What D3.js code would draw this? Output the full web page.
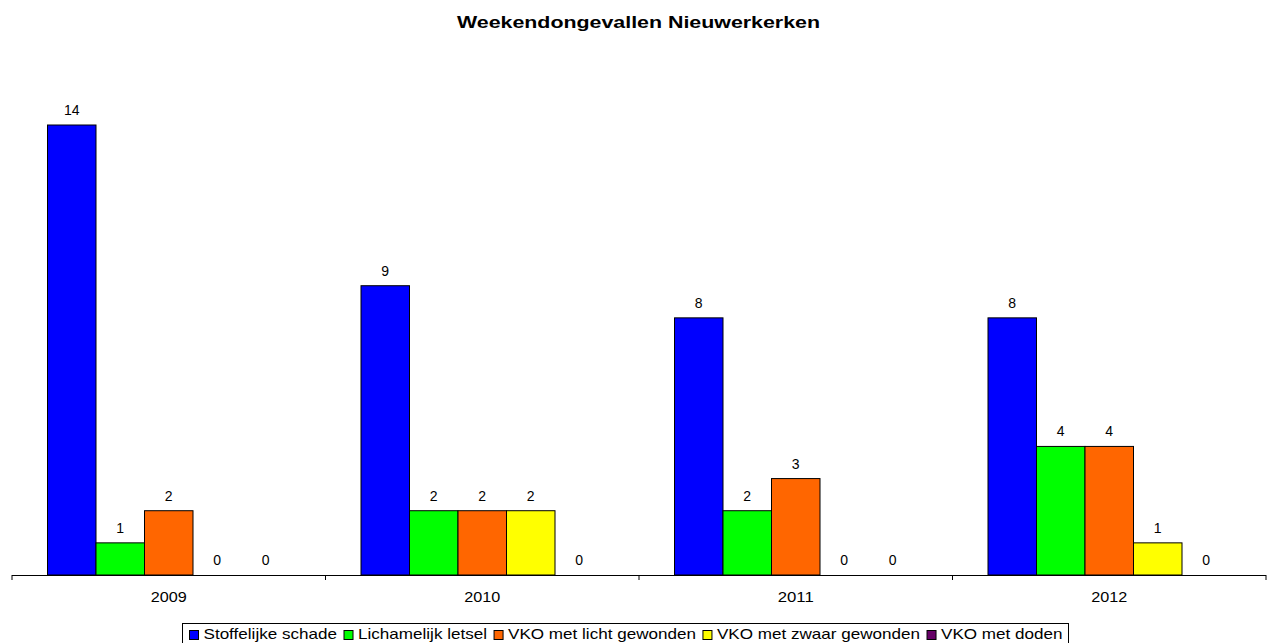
<!DOCTYPE html>
<html>
<head>
<meta charset="utf-8">
<script src="https://cdn.jsdelivr.net/npm/d3@7"></script>
<style>
  body { margin: 0; background: #fff; }
  svg { display: block; font-family: "Liberation Sans", Arial, sans-serif; }
</style>
</head>
<body>
<div id="chart"></div>
<script>
// chart data
var years = ["2009", "2010", "2011", "2012"];
var seriesNames = ["Stoffelijke schade", "Lichamelijk letsel", "VKO met licht gewonden", "VKO met zwaar gewonden", "VKO met doden"];
var seriesColors = ["#0000ff", "#00ff00", "#ff6600", "#ffff00", "#660066"];
var stoffelijk = [14, 9, 8, 8];
var lichamelijk = [1, 2, 2, 4];
var lichtGewond = [2, 2, 3, 4];
var zwaarGewond = [0, 2, 0, 1];
var doden = [0, 0, 0, 0];
var seriesValues = [stoffelijk, lichamelijk, lichtGewond, zwaarGewond, doden];

var width = 1271, height = 643;

var svg = d3.select("#chart").append("svg")
  .attr("width", width)
  .attr("height", height);

// title
svg.append("text")
  .attr("x", 638.5)
  .attr("y", 28)
  .attr("text-anchor", "middle")
  .attr("font-size", 16)
  .attr("font-weight", "bold")
  .attr("textLength", 363)
  .attr("lengthAdjust", "spacingAndGlyphs")
  .text("Weekendongevallen Nieuwerkerken");

// scales
var x0 = d3.scaleBand().domain(years).range([12, 1266]).paddingInner(0);
var x1 = d3.scaleBand().domain(seriesNames).range([35.5, x0.bandwidth() - 35.5]).paddingInner(0);
var y = d3.scaleLinear().domain([0, 14]).range([575, 125]);

// flat list of bars
var bars = [];
years.forEach(function(yr, i) {
  seriesNames.forEach(function(s, j) {
    bars.push({ year: yr, series: s, value: seriesValues[j][i], color: seriesColors[j] });
  });
});

svg.selectAll(".bar")
  .data(bars.filter(function(d) { return d.value > 0; }))
  .enter()
  .append("rect")
  .attr("class", "bar")
  .attr("x", function(d) { return x0(d.year) + x1(d.series); })
  .attr("y", function(d) { return y(d.value); })
  .attr("width", x1.bandwidth())
  .attr("height", function(d) { return y(0) - y(d.value); })
  .attr("fill", function(d) { return d.color; })
  .attr("stroke", "#000")
  .attr("stroke-width", 1);

// value labels
svg.selectAll(".val")
  .data(bars)
  .enter()
  .append("text")
  .attr("class", "val")
  .attr("x", function(d) { return x0(d.year) + x1(d.series) + x1.bandwidth() / 2; })
  .attr("y", function(d) { return y(d.value) - 10; })
  .attr("text-anchor", "middle")
  .attr("font-size", 14)
  .attr("fill", "#000")
  .text(function(d) { return d.value; });

// x axis
var axis = d3.axisBottom(x0).tickSize(0).tickPadding(0);
var gx = svg.append("g")
  .attr("transform", "translate(0," + y(0) + ")")
  .call(axis);
gx.select(".domain").attr("stroke", "#000").attr("d", "M12,0.5H1266");
gx.selectAll(".tick text")
  .attr("y", 27)
  .attr("dy", 0)
  .attr("font-size", 15)
  .attr("font-family", "Liberation Sans, Arial, sans-serif")
  .attr("fill", "#000")
  .attr("textLength", 36)
  .attr("lengthAdjust", "spacingAndGlyphs");

// category boundary ticks
var bounds = years.map(function(d) { return x0(d); }).concat([x0.range()[1]]);
gx.selectAll(".bound")
  .data(bounds)
  .enter()
  .append("line")
  .attr("class", "bound")
  .attr("x1", function(d) { return d; })
  .attr("x2", function(d) { return d; })
  .attr("y1", 0)
  .attr("y2", 5)
  .attr("stroke", "#000");

// legend
var legend = svg.append("g");
legend.append("rect")
  .attr("x", 182.5)
  .attr("y", 623.5)
  .attr("width", 886)
  .attr("height", 30)
  .attr("fill", "#fff")
  .attr("stroke", "#000");

var items = legend.selectAll(".item")
  .data(seriesNames)
  .enter()
  .append("g")
  .attr("class", "item");

items.append("rect")
  .attr("width", 9)
  .attr("height", 9)
  .attr("y", 630.5)
  .attr("fill", function(d, i) { return seriesColors[i]; })
  .attr("stroke", "#000");

var labels = items.append("text")
  .attr("y", 639)
  .attr("font-size", 15)
  .attr("fill", "#000")
  .text(function(d) { return d; });

// stretch legend text horizontally to fill the box, like the original
var natural = [];
labels.each(function() { natural.push(this.getComputedTextLength()); });
var fixedPart = 5 * (10 + 4) + 4 * 7;
var sx = (873 - fixedPart) / d3.sum(natural);
var cx = 189.5;
items.each(function(d, i) {
  var g = d3.select(this);
  g.select("rect").attr("x", cx);
  var w = natural[i] * sx;
  g.select("text")
    .attr("x", cx + 14)
    .attr("textLength", w)
    .attr("lengthAdjust", "spacingAndGlyphs");
  cx += 14 + w + 7;
});
</script>
</body>
</html>
